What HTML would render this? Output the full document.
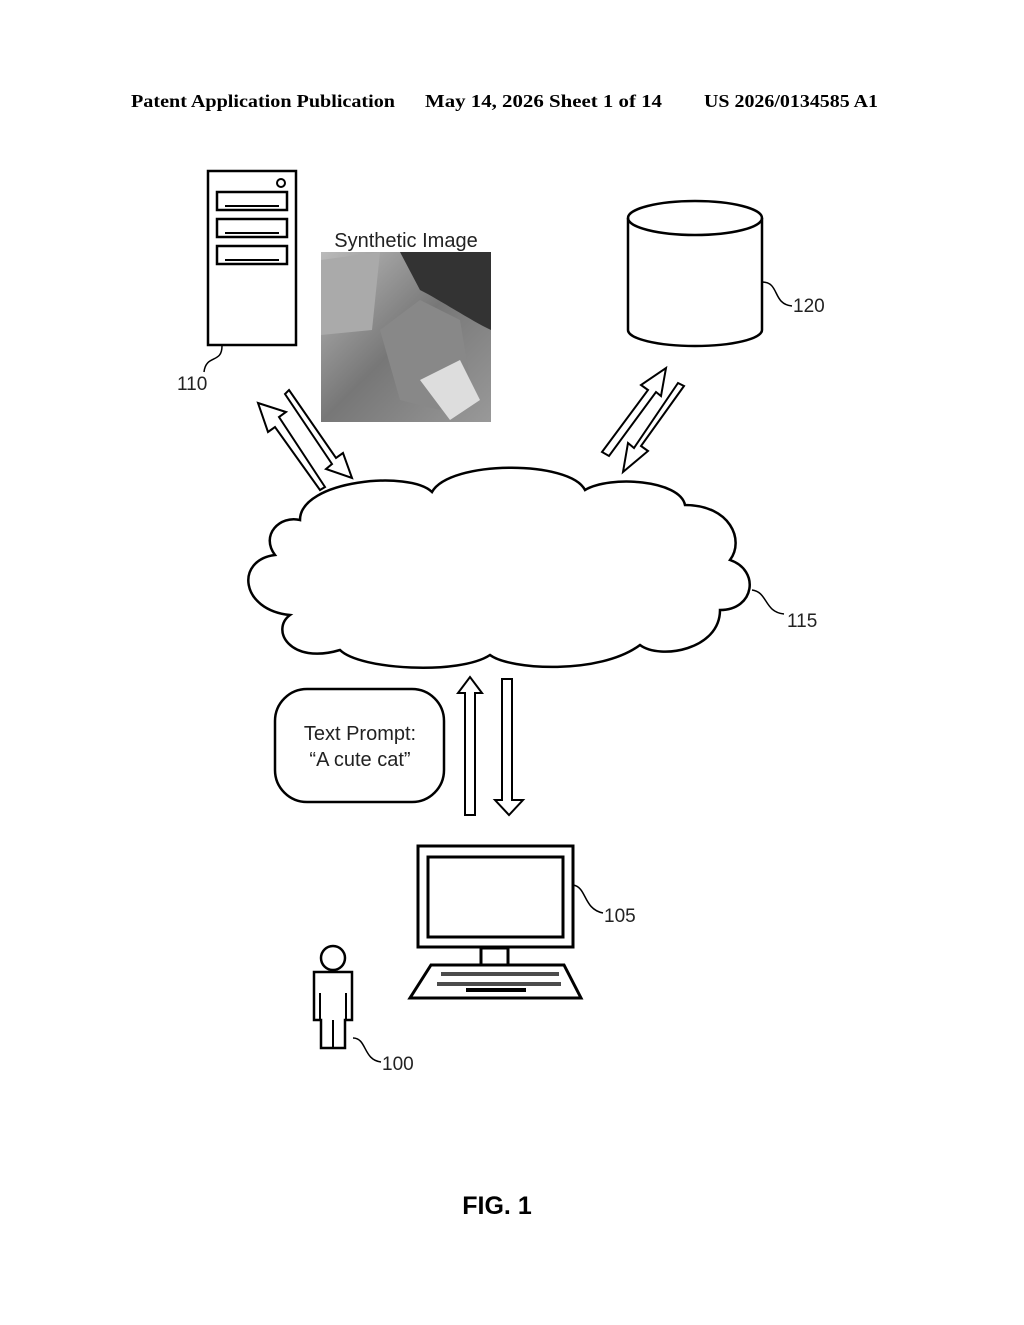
<!DOCTYPE html>
<html><head><style>body{margin:0;background:#fff}</style></head><body>
<svg width="1024" height="1320" viewBox="0 0 1024 1320" xmlns="http://www.w3.org/2000/svg">
<rect width="1024" height="1320" fill="#fff"/>
<g font-family="Liberation Serif, serif" font-weight="bold" font-size="18" fill="#000">
<text x="131" y="107" textLength="264" lengthAdjust="spacingAndGlyphs">Patent Application Publication</text>
<text x="425" y="107" textLength="237" lengthAdjust="spacingAndGlyphs">May 14, 2026  Sheet 1 of 14</text>
<text x="704" y="107" textLength="174" lengthAdjust="spacingAndGlyphs">US 2026/0134585 A1</text>
</g>
<g fill="none" stroke="#000" stroke-width="2.5">
<rect x="208" y="171" width="88" height="174"/>
<circle cx="281" cy="183" r="4" stroke-width="2"/>
<rect x="217" y="192" width="70" height="18"/>
<rect x="217" y="219" width="70" height="18"/>
<rect x="217" y="246" width="70" height="18"/>
<path d="M225 206h54M225 233h54M225 260h54" stroke-width="2"/>
<path d="M222 346c0 18-16 8-18 26" stroke-width="1.5"/>
<path d="M628 218v112a67 16 0 0 0 134 0V218"/>
<ellipse cx="695" cy="218" rx="67" ry="17"/>
<path d="M762 282c18 0 10 22 30 24" stroke-width="1.5"/>
<path d="M300 520C300 480 410 470 432 492C450 460 570 460 585 490C610 475 680 480 685 505C730 505 745 540 730 560C760 570 755 610 720 610C720 650 660 660 640 645C600 675 510 670 490 655C460 675 360 670 340 650C290 665 270 630 290 615C240 610 235 560 275 555C260 535 280 515 300 520Z"/>
<path d="M752 590c16 2 12 22 32 24" stroke-width="1.5"/>
<path d="M320 490L275 427L268 432L258 403L286 412L279 417L325 487Z" stroke-width="2"/>
<path d="M289 390L336 458L343 453L352 478L326 469L332 464L285 394Z" stroke-width="2"/>
<path d="M602 452L648 390L641 385L666 368L661 396L656 392L609 456Z" stroke-width="2"/>
<path d="M684 386L641 446L648 451L623 472L628 443L634 448L678 383Z" stroke-width="2"/>
<path d="M465 815V693H458L470 677L482 693H475V815Z" stroke-width="2"/>
<path d="M502 679V800H495L509 815L523 800H512V679Z" stroke-width="2"/>
<rect x="275" y="689" width="169" height="113" rx="32"/>
<rect x="418" y="846" width="155" height="101" stroke-width="3"/>
<rect x="428" y="857" width="135" height="80" stroke-width="3"/>
<rect x="481" y="948" width="27" height="17" stroke-width="3"/>
<path d="M431 965H564L581 998H410Z" stroke-width="3"/>
<path d="M573 885c14 2 10 24 30 28" stroke-width="1.5"/>
<circle cx="333" cy="958" r="12"/>
<path d="M314 972H352V1020H345V1048H321V1020H314Z"/>
<path d="M320 993V1020M346 993V1020M333 1020V1048" stroke-width="2"/>
<path d="M353 1038c14 0 10 22 28 24" stroke-width="1.5"/>
</g>
<g fill="#000">
<path d="M441 972h118v4h-118zM437 982h124v4h-124z" opacity="0.7"/>
<rect x="466" y="988" width="60" height="4"/>
</g>
<defs>
<linearGradient id="g1" x1="0" y1="0" x2="1" y2="1">
<stop offset="0" stop-color="#bbb"/><stop offset="0.5" stop-color="#777"/><stop offset="1" stop-color="#999"/>
</linearGradient>
</defs>
<rect x="321" y="252" width="170" height="170" fill="url(#g1)"/>
<path d="M400 252H491V330C470 320 440 300 420 290Z" fill="#333"/>
<path d="M321 260L380 252L372 330L321 335Z" fill="#aaa"/>
<path d="M380 330L420 300L460 320L470 380L440 410L400 400Z" fill="#888"/>
<path d="M420 380L460 360L480 400L450 420Z" fill="#ddd"/>
<g font-family="Liberation Sans, sans-serif" fill="#222">
<text x="406" y="247" font-size="20" text-anchor="middle">Synthetic Image</text>
<text x="177" y="390" font-size="19">110</text>
<text x="793" y="312" font-size="19">120</text>
<text x="787" y="627" font-size="19">115</text>
<text x="604" y="922" font-size="19">105</text>
<text x="382" y="1070" font-size="19">100</text>
<text x="360" y="740" font-size="20" text-anchor="middle">Text Prompt:</text>
<text x="360" y="766" font-size="20" text-anchor="middle">“A cute cat”</text>
<text x="497" y="1214" font-size="25" font-weight="bold" text-anchor="middle" fill="#000">FIG. 1</text>
</g>
</svg>
</body></html>
